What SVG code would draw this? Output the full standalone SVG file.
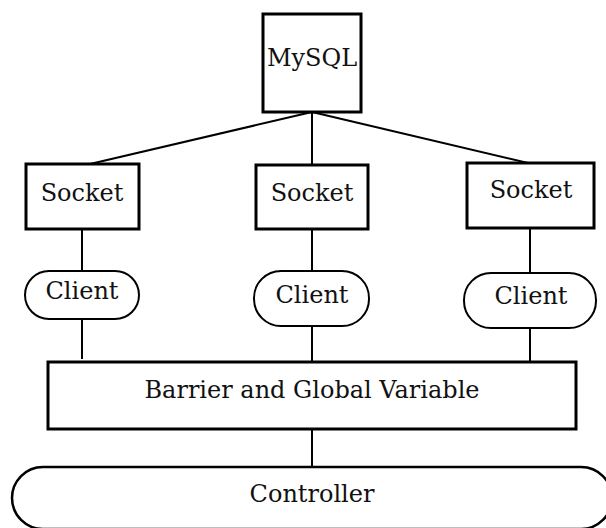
<svg xmlns="http://www.w3.org/2000/svg" width="606" height="528" viewBox="0 0 606 528">
<style>
.box{fill:#fff;stroke:#000;stroke-width:3}
.pill{fill:#fff;stroke:#000;stroke-width:2}
.conn{stroke:#000;stroke-width:2;fill:none}
text{font-family:"DejaVu Serif","Liberation Serif",serif;font-size:24px;fill:#111;text-anchor:middle}
</style>
<rect width="606" height="528" fill="#fff"/>
<g id="connectors">
<line class="conn" x1="312" y1="112" x2="90" y2="164"/>
<line class="conn" x1="312" y1="112" x2="312" y2="165"/>
<line class="conn" x1="312" y1="112" x2="528" y2="163"/>
<line class="conn" x1="82" y1="229" x2="82" y2="271"/>
<line class="conn" x1="82" y1="319" x2="82" y2="359"/>
<line class="conn" x1="312" y1="229" x2="312" y2="271"/>
<line class="conn" x1="312" y1="326" x2="312" y2="362"/>
<line class="conn" x1="530" y1="228" x2="530" y2="273"/>
<line class="conn" x1="530" y1="328" x2="530" y2="365"/>
<line class="conn" x1="312" y1="429" x2="312" y2="467"/>
</g>
<g id="mysql"><rect class="box" x="263" y="14" width="98" height="98"/><text x="312" y="66">MySQL</text></g>
<g id="socket1"><rect class="box" x="26" y="164" width="113" height="65"/><text x="82" y="201">Socket</text></g>
<g id="socket2"><rect class="box" x="256" y="165" width="112" height="64"/><text x="312" y="201">Socket</text></g>
<g id="socket3"><rect class="box" x="467" y="163" width="127" height="65"/><text x="531" y="198">Socket</text></g>
<g id="client1"><rect class="pill" x="25" y="271" width="114" height="48" rx="24"/><text x="82" y="299">Client</text></g>
<g id="client2"><rect class="pill" x="254" y="271" width="115" height="55" rx="27"/><text x="312" y="303">Client</text></g>
<g id="client3"><rect class="pill" x="464" y="273" width="132" height="55" rx="27"/><text x="531" y="304">Client</text></g>
<g id="barrier"><rect class="box" x="48" y="362" width="528" height="67"/><text x="312" y="398">Barrier and Global Variable</text></g>
<g id="controller"><rect class="pill" x="12" y="467" width="600" height="62" rx="31" style="stroke-width:2.5"/><text x="312" y="502">Controller</text></g>
</svg>
